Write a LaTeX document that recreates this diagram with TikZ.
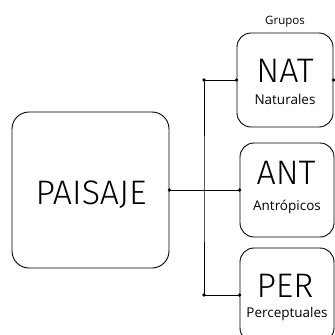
\documentclass[tikz,border=0pt]{standalone}
\usepackage{fontspec}
\setmainfont{Open Sans}
\newfontfamily\schmal{Fira Sans Light}
\usetikzlibrary{positioning}
\tikzset{
  kasten/.style={draw, line width=0.9pt, rounded corners=14pt, inner sep=0pt},
  gross/.style={font=\schmal\fontsize{34}{34}\selectfont, inner sep=0pt, anchor=base},
  klein/.style={font=\fontsize{13.5}{13.5}\selectfont, inner sep=0pt, anchor=base},
  punkt/.style={circle, fill, inner sep=0pt, minimum size=3.6pt}
}
\begin{document}
\begin{tikzpicture}[x=1pt,y=-1pt]
  \useasboundingbox (0,0) rectangle (335,335);
  \clip (0,0) rectangle (335,335);
  % Kasten Paisaje
  \node[kasten, minimum width=157pt, minimum height=156pt, rounded corners=17pt] (paisaje) at (90.5,190) {};
  \node[gross] (paisajeT) at (91,204) {PAISAJE};
  % Gruppen
  \node[kasten, minimum width=96pt, minimum height=94pt] (nat) at (285,80) {};
  \node[kasten, minimum width=94pt, minimum height=94pt] (ant) at (287,190) {};
  \node[kasten, minimum width=94pt, minimum height=94pt] (per) at (287,295) {};
  \node[klein, font=\fontsize{11.5}{11.5}\selectfont] (grupos) at (285,24) {Grupos};
  % Texte der Gruppen
  \node[gross] (natT) at (285,82) {NAT};
  \node[klein] (natU) at (285,104) {Naturales};
  \node[gross] (antT) at (286,184) {ANT};
  \node[klein] (antU) at (287,210) {Antrópicos};
  \node[gross] (perT) at (285,297) {PER};
  \node[klein] (perU) at (287,317) {Perceptuales};
  % Verbindungen
  \coordinate (rama) at (204,190);
  \coordinate (ausgang) at (340,80);
  \draw[line width=0.7pt] (paisaje.east) -- (ant.west);
  \draw[line width=0.7pt] (nat.west) -| (rama) |- (per.west);
  \draw[line width=0.7pt] (nat.east) -- (ausgang);
  % Punkte
  \foreach \p in {paisaje.east, nat.west, ant.west, per.west, nat.east}
    \node[punkt] at (\p) {};
  \node[punkt] at (nat.west -| rama) {};
  \node[punkt] at (per.west -| rama) {};
\end{tikzpicture}
\end{document}
